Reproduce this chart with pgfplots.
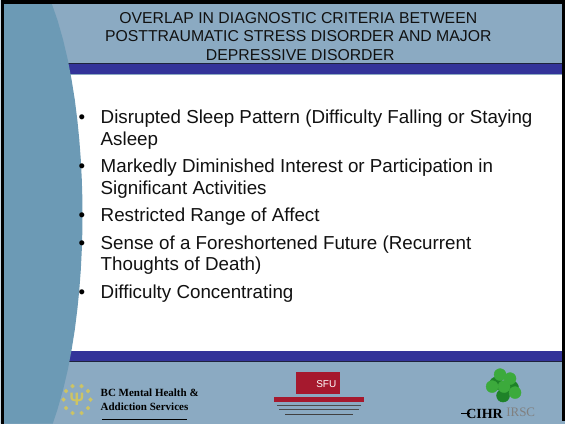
\documentclass[border=0pt]{standalone}
\usepackage{pgfplots}
\pgfplotsset{compat=1.18}
\usepackage{fontspec}
\setmainfont{Liberation Sans}
\newfontfamily\serif{Liberation Serif}
\definecolor{hdr}{RGB}{139,170,194}
\definecolor{arc}{RGB}{108,154,181}
\definecolor{band}{RGB}{51,51,153}
\definecolor{dline}{RGB}{30,35,60}
\definecolor{sfured}{RGB}{166,25,46}
\definecolor{sunyel}{RGB}{205,196,100}
\definecolor{leaf}{RGB}{60,170,60}
\definecolor{leafd}{RGB}{30,130,40}
\definecolor{txt}{RGB}{17,17,17}
\begin{document}
\begin{tikzpicture}
\begin{axis}[width=565pt,height=424pt,scale only axis,
  xmin=0,xmax=565,ymin=0,ymax=424,y dir=reverse,hide axis,clip=false]
% background
\addplot[fill=hdr,draw=none] coordinates {(0,0)(565,0)(565,424)(0,424)} -- cycle;
\addplot[fill=white,draw=none] coordinates {(0,75)(562,75)(562,351)(0,351)} -- cycle;
% title
\node[anchor=base,inner sep=0pt,text=txt,font=\fontsize{15.8}{18}\selectfont] at (axis cs:298,24) {OVERLAP IN DIAGNOSTIC CRITERIA BETWEEN};
\node[anchor=base,inner sep=0pt,text=txt,font=\fontsize{15.8}{18}\selectfont] at (axis cs:298,42) {POSTTRAUMATIC STRESS DISORDER AND MAJOR};
\node[anchor=base,inner sep=0pt,text=txt,font=\fontsize{15.8}{18}\selectfont] at (axis cs:300,61) {DEPRESSIVE DISORDER};
% bands
\addplot[fill=band,draw=none] coordinates {(0,64)(562,64)(562,74.5)(0,74.5)} -- cycle;
\addplot[fill=band,draw=none] coordinates {(0,351)(562,351)(562,361)(0,361)} -- cycle;
\addplot[dline,line width=1.2pt] coordinates {(0,63.5)(562,63.5)};
\addplot[dline,line width=0.9pt] coordinates {(0,361.5)(562,361.5)};
% left arc shape
\addplot[fill=arc,draw=none] coordinates {(0,0)(49.9,0)(56.9,20)(62.6,40)(67.3,60)(71.1,80)(74.3,100)(76.8,120)(78.8,140)(80.3,160)(81.3,180)(81.9,200)(82,215)(81.9,230)(81.3,250)(80.3,270)(78.8,290)(76.8,310)(74.3,330)(71.1,350)(67.3,370)(62.6,390)(56.9,410)(52.2,424)(0,424)} -- cycle;
% border
\addplot[fill=black,draw=none] coordinates {(0,0)(565,0)(565,4)(0,4)} -- cycle;
\addplot[fill=black,draw=none] coordinates {(0,0)(3.5,0)(3.5,424)(0,424)} -- cycle;
\addplot[fill=black,draw=none] coordinates {(561.5,0)(565,0)(565,421)(561.5,421)} -- cycle;
% bullets
\pgfplotsinvokeforeach{124,173,222,249.5,298.5}{
  \node[anchor=base,inner sep=0pt,text=black,font=\fontsize{18.7}{21.5}\selectfont] at (axis cs:81.5,#1) {•};
}
\node[anchor=base west,inner sep=0pt,text=txt,font=\fontsize{18.8}{21.5}\selectfont] at (axis cs:100,124) {Disrupted Sleep Pattern (Difficulty Falling or Staying};
\node[anchor=base west,inner sep=0pt,text=txt,font=\fontsize{18.8}{21.5}\selectfont] at (axis cs:100,145.5) {Asleep};
\node[anchor=base west,inner sep=0pt,text=txt,font=\fontsize{18.8}{21.5}\selectfont] at (axis cs:100,173) {Markedly Diminished Interest or Participation in};
\node[anchor=base west,inner sep=0pt,text=txt,font=\fontsize{18.8}{21.5}\selectfont] at (axis cs:100,194.5) {Significant Activities};
\node[anchor=base west,inner sep=0pt,text=txt,font=\fontsize{18.8}{21.5}\selectfont] at (axis cs:100,222) {Restricted Range of Affect};
\node[anchor=base west,inner sep=0pt,text=txt,font=\fontsize{18.8}{21.5}\selectfont] at (axis cs:100,249.5) {Sense of a Foreshortened Future (Recurrent};
\node[anchor=base west,inner sep=0pt,text=txt,font=\fontsize{18.8}{21.5}\selectfont] at (axis cs:100,271) {Thoughts of Death)};
\node[anchor=base west,inner sep=0pt,text=txt,font=\fontsize{18.8}{21.5}\selectfont] at (axis cs:100,298.5) {Difficulty Concentrating};
% BC Mental Health logo
\addplot[only marks,mark=*,mark size=1.9pt,sunyel] coordinates {(90,400)(87.5,391.5)(81,386.5)(72,386.5)(65.5,391.5)(63,400)(65.5,408.5)(72,413.5)(81,413.5)(87.5,408.5)};
\node[text=sunyel,font=\bfseries\fontsize{18}{18}\selectfont] at (axis cs:76.5,400) {Ψ};
\node[anchor=base west,inner sep=0pt,text=black,font=\serif\bfseries\fontsize{11}{11}\selectfont] at (axis cs:100,397) {BC Mental Health \&};
\node[anchor=base west,inner sep=0pt,text=black,font=\serif\bfseries\fontsize{11}{11}\selectfont] at (axis cs:100,411) {Addiction Services};
\addplot[black,line width=1.5pt] coordinates {(102,420)(187,420)};
% SFU logo
\addplot[fill=sfured,draw=none] coordinates {(296,372)(340,372)(340,394)(296,394)} -- cycle;
\node[text=white,font=\fontsize{10}{10}\selectfont] at (axis cs:326,384) {SFU};
\addplot[fill=sfured,draw=none] coordinates {(274,397)(364,397)(364,402)(274,402)} -- cycle;
\addplot[gray!60!black,line width=1.3pt] coordinates {(277,406)(361,406)};
\addplot[gray!60!black,line width=1.1pt] coordinates {(279,410)(359,410)};
\addplot[gray!50!black,line width=0.8pt] coordinates {(285,415)(353,415)};
% CIHR logo
\addplot[only marks,mark=*,mark size=6.5pt,leafd] coordinates {(496,384)(512,388)(503,396)};
\addplot[only marks,mark=*,mark size=6pt,leaf] coordinates {(500,375)(510,379)(492,387)(515,393)(504,387)};
\node[anchor=base west,inner sep=0pt,text=black,font=\serif\bfseries\fontsize{14}{14}\selectfont] at (axis cs:466,419) {CIHR};
\node[anchor=base west,inner sep=0pt,text=gray,font=\serif\fontsize{13}{13}\selectfont] at (axis cs:506,417) {IRSC};
\addplot[black,line width=1.4pt] coordinates {(461,414)(470,414)};
\end{axis}
\end{tikzpicture}
\end{document}
